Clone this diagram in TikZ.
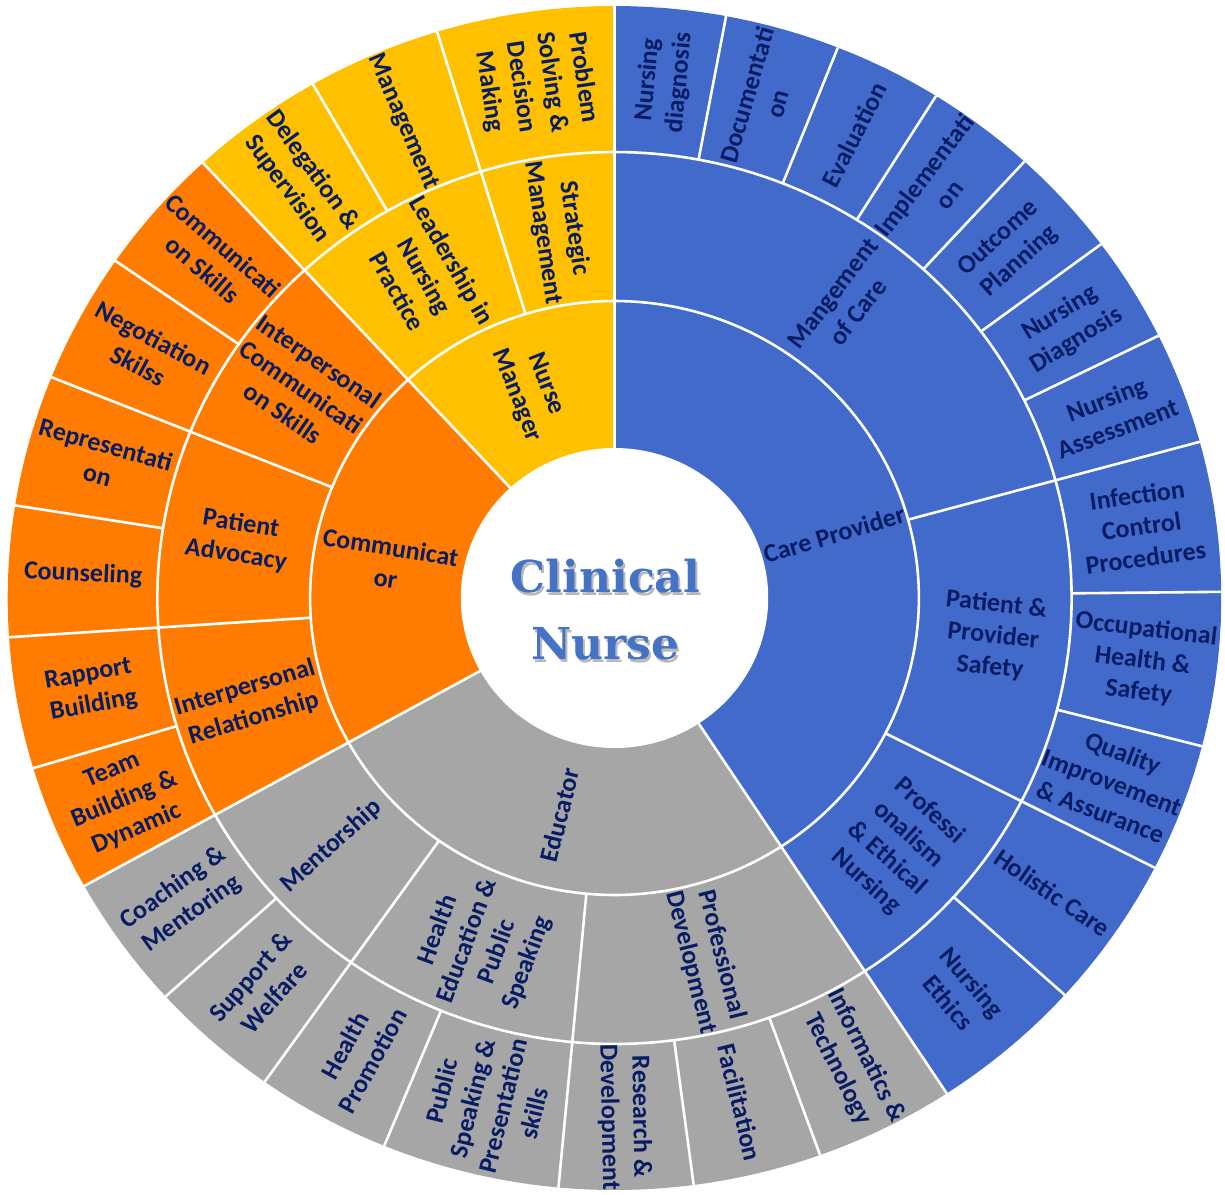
\documentclass[tikz,border=0pt]{standalone}
\usepackage{fontspec}
\setmainfont{Carlito}
\newfontfamily\titlefont{DejaVu Serif}
\definecolor{cblue}{RGB}{66,106,202}
\definecolor{corange}{RGB}{255,124,0}
\definecolor{cyellow}{RGB}{255,192,0}
\definecolor{cgray}{RGB}{166,166,166}
\definecolor{ctext}{RGB}{8,28,100}
\definecolor{ctitle}{RGB}{68,114,196}
\newcommand\labfont{\fontsize{13}{15.8}\selectfont\bfseries}
\tikzset{
  sep/.style={white, line width=1.3pt},
  lab/.style={font=\labfont, text=ctext, align=center, inner sep=0pt},
  titletext/.style={font=\titlefont\bfseries\fontsize{22}{33.5}\selectfont, align=center, inner sep=0pt},
}
\begin{document}
\begin{tikzpicture}[x=0.5125pt, y=0.5pt]
\useasboundingbox (-599.5,-596) rectangle (595.6,598);
\fill[white] (-599.5,-596) rectangle (595.6,598);

% category slices, full depth
\foreach \a/\b/\c in {-56.8/90/cblue, -150.9/-56.8/cgray, 132.7/209.1/corange, 90/132.7/cyellow}
  \fill[\c] (0,0) -- plot[domain=\a:\b, samples=90] (\x:592) -- cycle;

% ring borders
\foreach \r in {297,446}
  \draw[sep] plot[domain=0:360, samples=260] (\x:\r) -- cycle;

% borders between categories
\foreach \a in {90,-56.8,209.1,132.7}
  \draw[sep] (\a:150) -- (\a:592);
% borders between sub-categories
\foreach \a in {15.3,-27.1,-95.3,-125.2,183.8,158.1,107}
  \draw[sep] (\a:297) -- (\a:592);
% borders between leaves
\foreach \a in {79.4,68.4,58,47.5,36.7,26.3,0.6,-14.5,-42.1,-70.2,-82.5,-112.3,-137.7,196.7,171,145.3,119.8}
  \draw[sep] (\a:446) -- (\a:592);

% centre disc
\fill[white] plot[domain=0:360, samples=260] (\x:150) -- cycle;

% inner ring labels
\foreach \n/\m/\rot/\t in {
  cp/16.6/16.6/{Care Provider},
  ed/-103.85/76.15/{Educator},
  co/170.9/-9.1/{Communicat\\or},
  nm/111.35/-68.65/{Nurse\\Manager}}
  \node[lab, rotate=\rot] (\n) at (\m:223.5) {\t};

% middle ring labels
\foreach \n/\m/\rot/\t in {
  moc/52.65/52.65/{Mangement\\of Care},
  pps/-5.9/-5.9/{Patient \&\\Provider\\Safety},
  pen/-41.95/-41.95/{Professi\\onalism\\\& Ethical\\Nursing},
  pd/-76.05/-76.05/{Professional\\Development},
  he/-110.25/69.75/{Health\\Education \&\\Public\\Speaking},
  me/-138.05/41.95/{Mentorship},
  ir/196.45/16.45/{Interpersonal\\Relationship},
  pa/170.95/-9.05/{Patient\\Advocacy},
  ics/145.4/-34.6/{Interpersonal\\Communicati\\on Skills},
  lnp/119.85/-60.15/{Leadership in\\Nursing\\Practice},
  sm/98.5/-81.5/{Strategic\\Management}}
  \node[lab, rotate=\rot] (\n) at (\m:371.5) {\t};

% outer ring labels
\foreach \n/\m/\rot/\t in {
  nda/84.7/84.7/{Nursing\\diagnosis},
  doc/73.9/73.9/{Documentati\\on},
  ev/63.2/63.2/{Evaluation},
  imp/52.75/52.75/{Implementati\\on},
  op/42.1/42.1/{Outcome\\Planning},
  ndb/31.5/31.5/{Nursing\\Diagnosis},
  na/20.8/20.8/{Nursing\\Assessment},
  icp/7.95/7.95/{Infection\\Control\\Procedures},
  ohs/-6.95/-6.95/{Occupational\\Health \&\\Safety},
  qia/-20.8/-20.8/{Quality\\Improvement\\\& Assurance},
  hc/-34.6/-34.6/{Holistic Care},
  ne/-49.45/-49.45/{Nursing\\Ethics},
  it/-63.5/-63.5/{Informatics \&\\Technology},
  fa/-76.35/-76.35/{Facilitation},
  rd/-88.9/-88.9/{Research \&\\Development},
  psp/-103.8/76.2/{Public\\Speaking \&\\Presentation\\skills},
  hp/-118.75/61.25/{Health\\Promotion},
  sw/-131.45/48.55/{Support \&\\Welfare},
  cm/-144.3/35.7/{Coaching \&\\Mentoring},
  tb/202.9/22.9/{Team\\Building \&\\Dynamic},
  rb/190.25/10.25/{Rapport\\Building},
  cou/177.4/-2.6/{Counseling},
  rep/164.55/-15.45/{Representati\\on},
  neg/151.7/-28.3/{Negotiation\\Skilss},
  cs/139/-41/{Communicati\\on Skills},
  ds/126.25/-53.75/{Delegation \&\\Supervision},
  mg/113.4/-66.6/{Management},
  ps/98.5/-81.5/{Problem\\Solving \&\\Decision\\Making}}
  \node[lab, rotate=\rot] (\n) at (\m:519) {\t};

% centre title with soft shadow
\node[titletext, text=black, opacity=0.28] (titleshadow) at (-6.8,-14.5) {Clinical\\Nurse};
\node[titletext, text=ctitle] (title) at (-8.8,-12) {Clinical\\Nurse};
\end{tikzpicture}
\end{document}
